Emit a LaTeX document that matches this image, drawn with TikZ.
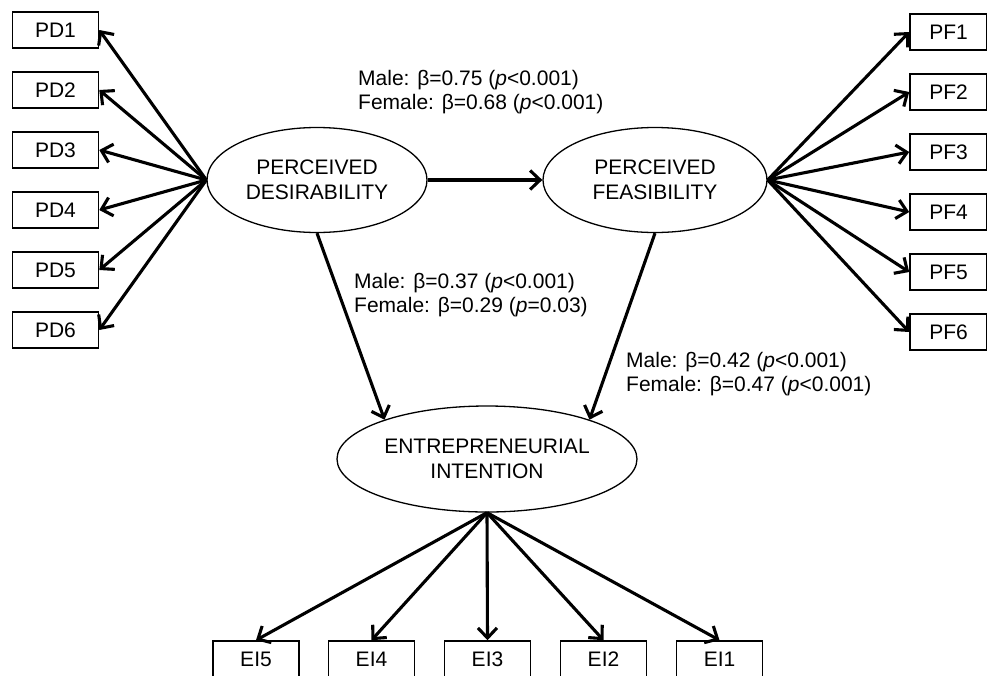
\documentclass[tikz,border=0pt]{standalone}
\usepackage{fontspec}
\setmainfont{Liberation Sans}
\usetikzlibrary{shapes.geometric,arrows.meta}
\begin{document}
\begin{tikzpicture}[x=1pt,y=-1pt,
  every node/.style={font=\fontsize{21}{24.5}\selectfont, inner sep=0pt},
  obs/.style={draw, line width=1.6pt, minimum width=86pt, minimum height=36pt},
  lat/.style={draw, ellipse, line width=1.3pt, align=center},
  lbl/.style={anchor=west, align=left},
  arr/.style={line width=3.1pt, -{Straight Barb[length=10pt,width=19pt]}}]
\useasboundingbox (0,0) rectangle (987,675);
% latent variables
\node[lat, minimum width=220pt, minimum height=105pt] (pd) at (317,180) {PERCEIVED\\DESIRABILITY};
\node[lat, minimum width=224pt, minimum height=105pt] (pf) at (655,180) {PERCEIVED\\FEASIBILITY};
\node[lat, minimum width=300pt, minimum height=106pt] (ei) at (487,459) {ENTREPRENEURIAL\\INTENTION};
% indicators
\foreach \i/\y in {1/30,2/90,3/150,4/210,5/270,6/330}{
  \node[obs] (pd\i) at (55.5,\y) {PD\i};
  \draw[arr] (pd.west) -- (pd\i.east);
}
\foreach \i/\y in {1/32,2/92,3/152,4/212,5/272,6/332}{
  \node[obs, minimum width=77pt] (pf\i) at (948.5,\y) {PF\i};
  \draw[arr] (pf.east) -- (pf\i.west);
}
\foreach \i/\x in {5/256,4/371.5,3/487.5,2/603.5,1/719.5}{
  \node[obs] (ei\i) at (\x,659) {EI\i};
  \draw[arr] (ei.south) -- (ei\i.north);
}
% structural paths
\draw[arr] (pd.east) -- (pf.west);
\draw[arr] (pd.south) -- (ei.159);
\draw[arr] (pf.south) -- (ei.21);
% labels
\node[lbl] (l1) at (358,92) {Male: β=0.75 (\textit{p}<0.001)\\Female: β=0.68 (\textit{p}<0.001)};
\node[lbl] (l2) at (354,295) {Male: β=0.37 (\textit{p}<0.001)\\Female: β=0.29 (\textit{p}=0.03)};
\node[lbl] (l3) at (626,374) {Male: β=0.42 (\textit{p}<0.001)\\Female: β=0.47 (\textit{p}<0.001)};
\end{tikzpicture}
\end{document}
